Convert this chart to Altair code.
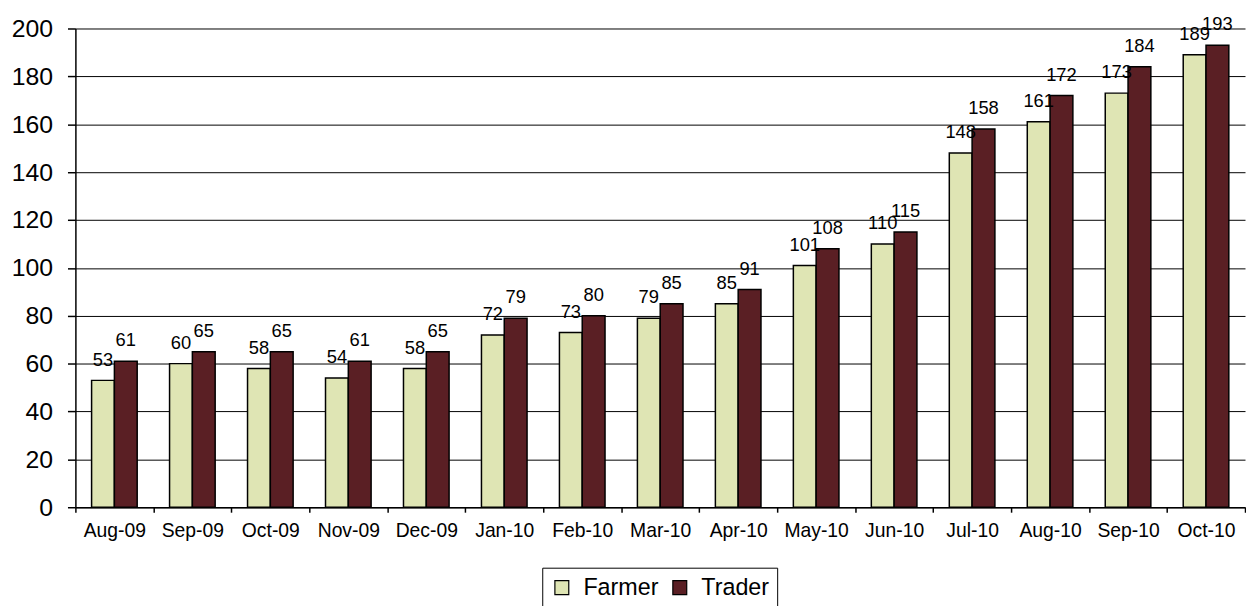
import altair as alt
import pandas as pd

months = ["Aug-09", "Sep-09", "Oct-09", "Nov-09", "Dec-09", "Jan-10", "Feb-10", "Mar-10",
          "Apr-10", "May-10", "Jun-10", "Jul-10", "Aug-10", "Sep-10", "Oct-10"]
farmer = [53, 60, 58, 54, 58, 72, 73, 79, 85, 101, 110, 148, 161, 173, 189]
trader = [61, 65, 65, 61, 65, 79, 80, 85, 91, 108, 115, 158, 172, 184, 193]
series = ["Farmer", "Trader"]
colors = ["#DFE5B4", "#5A1F24"]

rows = []
for i, m in enumerate(months):
    rows.append({"month": m, "series": "Farmer", "value": farmer[i]})
    rows.append({"month": m, "series": "Trader", "value": trader[i]})
df = pd.DataFrame(rows)

FONT = "Liberation Sans"

x = alt.X("month:N", sort=months, title=None,
          scale=alt.Scale(paddingInner=0, paddingOuter=0),
          axis=alt.Axis(labelAngle=0, labelFontSize=19.5, labelFont=FONT, labelColor="black",
                        domainColor="black", tickColor="black", tickSize=5,
                        tickBand="extent", labelPadding=10, grid=False))
xo = alt.XOffset("series:N", sort=series,
                 scale=alt.Scale(paddingInner=0, paddingOuter=0.71))

bars = alt.Chart(df).mark_bar(stroke="black", strokeWidth=1.5).encode(
    x=x,
    xOffset=xo,
    y=alt.Y("value:Q", title=None,
            scale=alt.Scale(domain=[0, 200], nice=False),
            axis=alt.Axis(values=list(range(0, 201, 20)), labelFontSize=25, labelFont=FONT,
                          labelColor="black", domainColor="black", tickColor="black",
                          tickSize=8, labelPadding=15, grid=True, gridColor="black",
                          gridWidth=1)),
    color=alt.Color("series:N", sort=series,
                    scale=alt.Scale(domain=series, range=colors),
                    legend=alt.Legend(title=None, orient="none", legendX=471, legendY=544,
                                      direction="horizontal", symbolType="square",
                                      symbolSize=196, symbolStrokeColor="black",
                                      symbolStrokeWidth=1.2, labelFontSize=23.5,
                                      labelFont=FONT, labelColor="black",
                                      strokeColor="black", padding=8,
                                      columnPadding=9, labelOffset=10)),
)

labels = alt.Chart(df).mark_text(baseline="bottom", dy=-11, fontSize=18.5, font=FONT,
                                 color="black").encode(
    x=x,
    xOffset=xo,
    y=alt.Y("value:Q"),
    text=alt.Text("value:Q"),
)

chart = (bars + labels).properties(
    width=1180, height=483,
    padding={"top": 4, "left": 3, "right": 0, "bottom": 0},
).configure_view(stroke=None).configure_axis(domainWidth=1.5, tickWidth=1.5)

chart.save("out.html", embed_options={"renderer": "svg", "actions": False})
